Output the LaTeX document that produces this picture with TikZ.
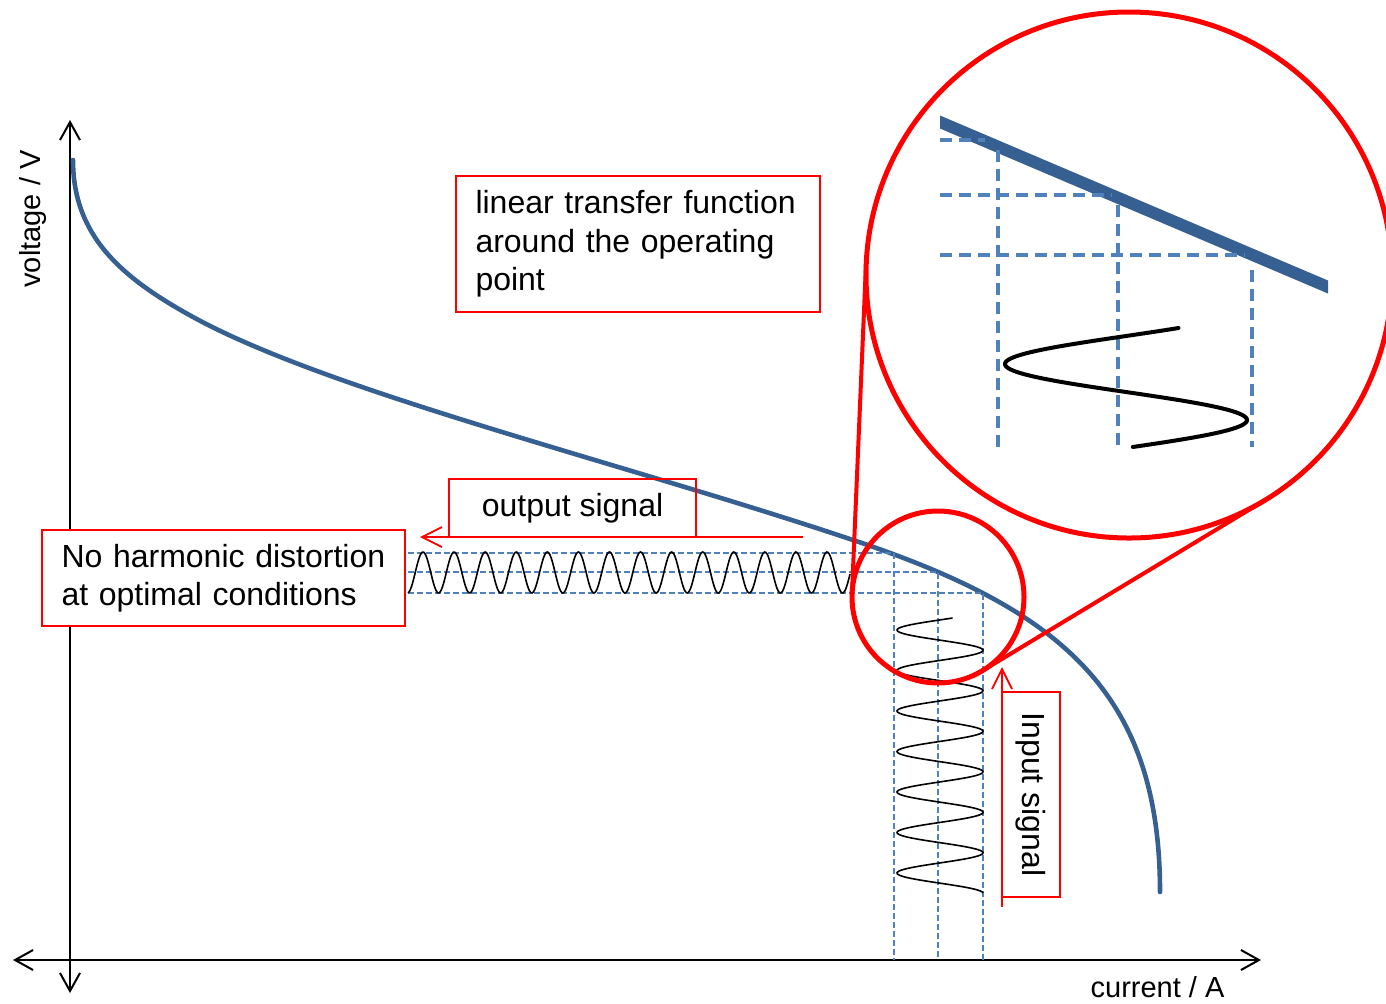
\documentclass[tikz,border=0pt]{standalone}
\usepackage{fontspec}
\setmainfont{Liberation Sans}
\usetikzlibrary{arrows.meta}
\definecolor{curveblue}{RGB}{55,96,146}
\definecolor{guideblue}{RGB}{79,129,189}
\definecolor{lensred}{RGB}{255,0,0}
\begin{document}
\begin{tikzpicture}[x=0.5pt,y=-0.5pt,
  axisline/.style={line width=1pt,
    {Straight Barb[length=9pt,width=10pt]}-{Straight Barb[length=9pt,width=10pt]}},
  ivcurve/.style={curveblue, line width=2.3pt, line cap=round},
  guide/.style={guideblue, line width=0.8pt, dash pattern=on 3pt off 1.5pt},
  guidebig/.style={guideblue, line width=2pt, dash pattern=on 6pt off 3.5pt},
  wave/.style={black, line width=0.8pt},
  wavebig/.style={black, line width=2pt},
  lens/.style={lensred, line width=2.5pt},
  infobox/.style={draw=lensred, line width=1pt, align=left, inner ysep=0pt,
    font=\fontsize{16pt}{18.5pt}\selectfont},
  sigarrow/.style={lensred, line width=0.9pt, -{Straight Barb[length=10pt,width=10pt]}},
  axlabel/.style={font=\fontsize{14.5pt}{17pt}\selectfont, inner sep=0pt}
]
\useasboundingbox (0,0) rectangle (1386,1003);

% axes
\coordinate (xL) at (13,960);
\coordinate (xR) at (1261,960);
\coordinate (yT) at (70,120);
\coordinate (yB) at (70,993);
\draw[axisline] (xL) -- (xR);
\draw[axisline] (yB) -- (yT);
\node[axlabel, rotate=90] (vlab) at (33,219) {voltage / V};
\node[axlabel, anchor=base] (ilab) at (1157.5,997) {current / A};

% polarisation curve
\draw[ivcurve] (73,160) .. controls (73,235) and (120,277) .. (193,317)
  .. controls (330,392) and (620,462) .. (853,540)
  .. controls (1060,609) and (1160,692) .. (1160,892);

% operating points and their projections
\coordinate (op1) at (894,553);
\coordinate (op2) at (938,572);
\coordinate (op3) at (983,593);
\draw[guide] (408,553) -- (op1) -- (894,960);
\draw[guide] (408,572) -- (op2) -- (938,960);
\draw[guide] (408,593) -- (op3) -- (983,960);

% output signal (voltage) and input signal (current)
\draw[wave] plot[domain=408:850, samples=400]
  (\x, {572.5-20.5*cos((360/31.08)*(\x-423))});
\draw[wave] plot[domain=618:893, samples=300]
  ({940-43*sin((360/40.5)*(\x-619.9))}, \x);

% magnified view of the operating region
\fill[curveblue] (940,115.5) -- (1328,280.5) -- (1328,293.5) -- (940,128.5) -- cycle;
\draw[guidebig] (940,140) -- (985,140);
\draw[guidebig] (940,195) -- (1112,195);
\draw[guidebig] (940,255) -- (1245,255);
\draw[guidebig] (998,150) -- (998,447);
\draw[guidebig] (1118,205) -- (1118,447);
\draw[guidebig] (1252,270) -- (1252,447);
\draw[wavebig, line cap=round] plot[domain=328:447, samples=200]
  ({1126-121*sin((180/56)*(\x-336))}, \x);

% zoom lens
\coordinate (lensS) at (938,597);
\coordinate (lensB) at (1129,275);
\draw[lens] (lensS) circle[radius=86];
\draw[lens] (lensB) circle[radius=263];
\coordinate (tS1) at (852,593);
\coordinate (tB1) at (866,264);
\coordinate (tS2) at (982,671);
\coordinate (tB2) at (1267,499);
\draw[lens, line width=2pt] (tS1) -- (tB1);
\draw[lens, line width=2pt] (tS2) -- (tB2);

% annotations
\node[infobox, text width=162pt, inner xsep=10pt, minimum width=182pt,
  minimum height=68pt, font=\fontsize{16pt}{19.3pt}\selectfont]
  (linbox) at (637.5,244)
  {linear transfer function\\around the operating\\point};
\node[infobox, fill=white, text width=162pt, inner xsep=9.75pt,
  minimum width=181.5pt, minimum height=48pt,
  font=\fontsize{16pt}{19pt}\selectfont] (nobox) at (223.5,578)
  {No harmonic distortion\\at optimal conditions};
\node[infobox, align=center, inner xsep=0pt, minimum width=123.5pt,
  minimum height=29pt] (outbox) at (572.5,508) {output signal};
\node[infobox, align=center, rotate=-90, inner xsep=0pt, minimum width=102.5pt,
  minimum height=29pt] (inbox) at (1031,794.5) {Input signal};

\coordinate (outTail) at (803,537);
\coordinate (outTip) at (420,537);
\draw[sigarrow] (outTail) -- (outTip);
\coordinate (inTail) at (1002,907);
\coordinate (inTip) at (1002,667);
\draw[sigarrow] (inTail) -- (inTip);
\end{tikzpicture}
\end{document}
